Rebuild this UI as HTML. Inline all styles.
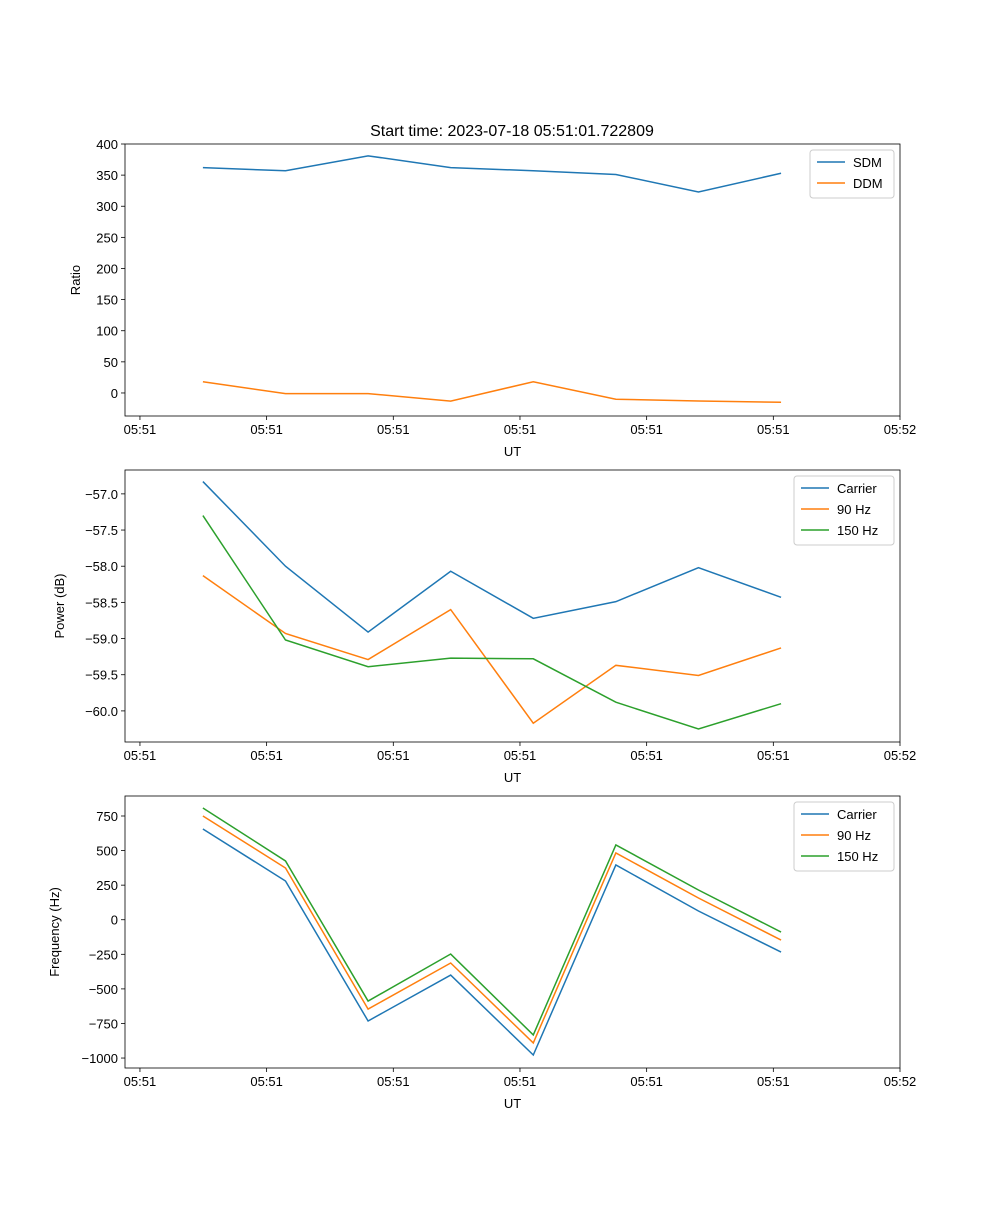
<!DOCTYPE html>
<html><head><meta charset="utf-8"><style>
body{margin:0;background:#fff;}
svg text{font-family:"Liberation Sans","DejaVu Sans",sans-serif;fill:#000;}
</style></head>
<body>
<svg id="fig" width="1000" height="1200" xmlns="http://www.w3.org/2000/svg">
<rect width="1000" height="1200" fill="#fff"/>
<text x="512" y="136" font-size="16" text-anchor="middle">Start time: 2023-07-18 05:51:01.722809</text>
</svg>
<script>
const times=[0.497,1.149,1.801,2.453,3.105,3.757,4.409,5.061];
const xTicks=[0,1,2,3,4,5,6];
const xTickLabels=["05:51","05:51","05:51","05:51","05:51","05:51","05:52"];
const sdm=[362,357,381,362,357,351,323,353];
const ddm=[18,-1,-1,-13,18,-10,-13,-15];
const pCarrier=[-56.83,-58.0,-58.91,-58.07,-58.72,-58.49,-58.02,-58.43];
const p90=[-58.13,-58.93,-59.29,-58.60,-60.17,-59.37,-59.51,-59.13];
const p150=[-57.30,-59.02,-59.39,-59.27,-59.28,-59.88,-60.25,-59.90];
const fCarrier=[656,280,-732,-400,-978,396,63,-234];
const f90=[750,374,-646,-313,-891,483,157,-147];
const f150=[808,425,-588,-248,-833,541,215,-89];
const ticks1=[0,50,100,150,200,250,300,350,400];
const ticks2=[-60.0,-59.5,-59.0,-58.5,-58.0,-57.5,-57.0];
const ticks3=[-1000,-750,-500,-250,0,250,500,750];

const NS="http://www.w3.org/2000/svg";
const svg=document.getElementById('fig');
const C=['#1f77b4','#ff7f0e','#2ca02c'];
function mk(tag,attrs,parent){const e=document.createElementNS(NS,tag);for(const k in attrs)e.setAttribute(k,attrs[k]);(parent||svg).appendChild(e);return e;}

function panel(id,top,ymin,ymax,yticks,ylabelTxt,ylabX,fmt,series,names,legend){
  const L=125,R=900,T=top,B=top+272;
  const xmin=-0.118,xmax=6.0;
  const xs=v=>L+(v-xmin)/(xmax-xmin)*(R-L);
  const ys=v=>B-(v-ymin)/(ymax-ymin)*(B-T);
  const g=mk('g',{});
  
  
  series.forEach((s,si)=>{
    const p=mk('polyline',{points:s.map((v,i)=>xs(times[i])+','+ys(v)).join(' '),fill:'none',stroke:C[si],'stroke-width':1.5},g);
    
    
  });
  const fr=mk('rect',{x:L,y:T,width:R-L,height:B-T,fill:'none',stroke:'#000','stroke-width':0.8},g);
  
  
  xTicks.forEach((t,i)=>{
    const x=xs(t);
    mk('line',{x1:x,x2:x,y1:B,y2:B+4,stroke:'#000','stroke-width':0.8},g);
    const tx=mk('text',{x:x,y:B+18,'font-size':13,'text-anchor':'middle'},g);
    tx.textContent=xTickLabels[i];
    
    
  });
  yticks.forEach(t=>{
    const y=ys(t);
    mk('line',{x1:L-4,x2:L,y1:y,y2:y,stroke:'#000','stroke-width':0.8},g);
    const tx=mk('text',{x:L-7,y:y+5,'font-size':13,'text-anchor':'end'},g);
    tx.textContent=fmt(t);
    
    
  });
  const xl=mk('text',{x:(L+R)/2,y:B+40,'font-size':13,'text-anchor':'middle'},g);
  xl.textContent='UT';
  
  
  const yl=mk('text',{x:ylabX,y:(T+B)/2,'font-size':13,'text-anchor':'middle',transform:`rotate(-90 ${ylabX} ${(T+B)/2})`},g);
  yl.textContent=ylabelTxt;
  
  
  const lg=mk('g',{},g);
  
  
  mk('rect',{x:legend[0],y:T+6,width:R-6-legend[0],height:names.length*21+6,fill:'#fff',stroke:'#ccc',rx:3},lg);
  names.forEach((n,i)=>{
    const y=T+18+i*21;
    mk('line',{x1:legend[0]+7,x2:legend[0]+35,y1:y,y2:y,stroke:C[i],'stroke-width':1.5},lg);
    const tx=mk('text',{x:legend[0]+43,y:y+5,'font-size':13},lg);
    tx.textContent=n;
    
    
  });
}
panel('ratio-panel',144,-37,400,ticks1,'Ratio',80,v=>String(v),[sdm,ddm],['SDM','DDM'],[810]);
panel('power-panel',470,-60.43,-56.67,ticks2,'Power (dB)',64,v=>'\u2212'+Math.abs(v).toFixed(1),[pCarrier,p90,p150],['Carrier','90 Hz','150 Hz'],[794]);
panel('frequency-panel',796,-1072,894.6,ticks3,'Frequency (Hz)',59,v=>v<0?'\u2212'+Math.abs(v):String(v),[fCarrier,f90,f150],['Carrier','90 Hz','150 Hz'],[794]);
</script>
</body></html>
